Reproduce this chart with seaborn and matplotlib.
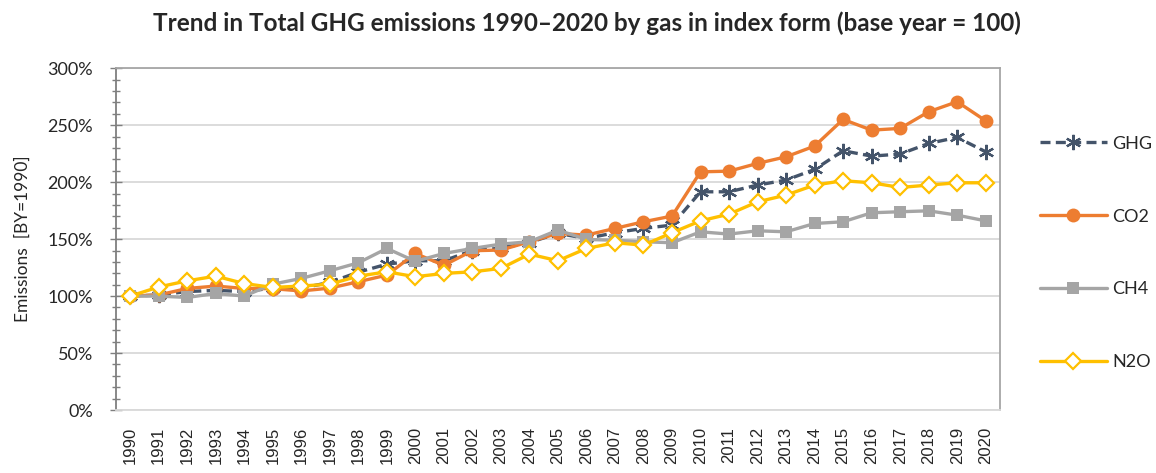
"""GHG emissions 1990-2020 by gas, index form (base year = 100)."""
import matplotlib
matplotlib.use("Agg")
import matplotlib.pyplot as plt
import matplotlib.ticker as mticker
import pandas as pd
import seaborn as sns

YEARS = list(range(1990, 2021))

GHG = [100, 101, 104, 105, 104, 107, 107, 112, 121, 128, 131, 131, 140, 142, 147, 155,
       150.6, 155.6, 159.4, 162.3, 191.5, 191.5, 197.4, 201.8, 211.1, 227.5, 222.8,
       224.6, 233.9, 239.2, 226.6]
CO2 = [100, 101, 106.7, 108.8, 106.7, 106.5, 104.5, 107, 112.6, 118.4, 137.4, 127,
       139.8, 140.4, 147.7, 155, 153.5, 159.4, 165.2, 170.2, 209, 209.6, 216.4, 222.2,
       231.6, 255, 245.6, 247.1, 261.7, 270.5, 253.8]
CH4 = [100, 100, 98.8, 102.3, 100, 110.5, 115.5, 122.2, 129.2, 141.8, 130.5, 137.4,
       141.8, 145.6, 147.7, 157.9, 149.7, 149, 147.7, 146.8, 156.4, 154.4, 157.3, 156.4,
       163.7, 165.2, 173.1, 174, 174.8, 171, 166]
N2O = [100, 108, 113.4, 117.5, 111, 107.6, 108.8, 110.5, 117.5, 121.3, 117, 119.9,
       121.3, 124.3, 136.8, 131, 141.8, 146.8, 144.7, 155.6, 166, 171.9, 182.7, 188.6,
       197.4, 201.2, 199.4, 195.3, 197.4, 199.4, 199.4]

SERIES = {"GHG": GHG, "CO2": CO2, "CH4": CH4, "N2O": N2O}
STYLES = {
    "GHG": dict(color="#44546A", marker=(6, 2, 0), markersize=11, linestyle=(0, (3, 1.6)),
                markeredgewidth=1.6, markerfacecolor="#44546A"),
    "CO2": dict(color="#ED7D31", marker="o", markersize=10, linestyle="-",
                markeredgewidth=0, markerfacecolor="#ED7D31"),
    "CH4": dict(color="#A5A5A5", marker="s", markersize=8.5, linestyle="-",
                markeredgewidth=0, markerfacecolor="#A5A5A5"),
    "N2O": dict(color="#FFC000", marker="D", markersize=8, linestyle="-",
                markeredgewidth=1.6, markerfacecolor="white"),
}

sns.set_style("white")
plt.rcParams["font.family"] = ["Lato", "DejaVu Sans"]

fig = plt.figure(figsize=(11.56, 4.73), dpi=100)
ax = fig.add_axes([0.1003, 0.133, 0.7647, 0.723])

for name, vals in SERIES.items():
    df = pd.DataFrame({"year": YEARS, "value": vals})
    st = STYLES[name]
    sns.lineplot(data=df, x="year", y="value", ax=ax, label=name, color=st["color"],
                 marker=st["marker"], markersize=st["markersize"],
                 linestyle=st["linestyle"], linewidth=2.4,
                 markeredgewidth=st["markeredgewidth"],
                 markerfacecolor=st["markerfacecolor"],
                 markeredgecolor=st["color"])

ax.set_xlim(1989.5, 2020.5)
ax.set_ylim(0, 300)
ax.set_xticks(YEARS)
ax.set_xticklabels([str(y) for y in YEARS], rotation=90, fontsize=12,
                   family="Liberation Sans")
ax.yaxis.set_major_locator(mticker.MultipleLocator(50))
ax.yaxis.set_minor_locator(mticker.MultipleLocator(10))
ax.yaxis.set_major_formatter(mticker.FuncFormatter(lambda v, p: f"{v:.0f}%"))
ax.tick_params(axis="y", which="major", direction="inout", length=9, width=1,
               color="#7f7f7f", labelsize=13, left=True, pad=12)
ax.tick_params(axis="y", which="minor", direction="inout", length=6, width=1,
               color="#7f7f7f", left=True)
ax.tick_params(axis="x", length=0, pad=12)

ax.grid(axis="y", which="major", color="#d9d9d9", linewidth=1.3)
ax.set_axisbelow(True)
for side in ["top", "right"]:
    ax.spines[side].set_color("#a6a6a6")
    ax.spines[side].set_linewidth(1.3)
ax.spines["bottom"].set_color("#d9d9d9")
ax.spines["bottom"].set_linewidth(1.3)
ax.spines["left"].set_color("#7f7f7f")
ax.spines["left"].set_linewidth(1.3)

ax.set_xlabel("")
ax.set_ylabel("Emissions  [BY=1990]", fontsize=12.5, labelpad=12)

leg = ax.legend(loc="upper left", bbox_to_anchor=(1.027, 0.85), frameon=False,
                fontsize=13, labelspacing=3.15, handlelength=3.7, handletextpad=0.3)

fig.suptitle("Trend in Total GHG emissions 1990\u20132020 by gas in index form (base year = 100)",
             x=0.508, y=0.975, fontsize=17.5, fontweight="bold")

fig.savefig("out.png", dpi=100)
